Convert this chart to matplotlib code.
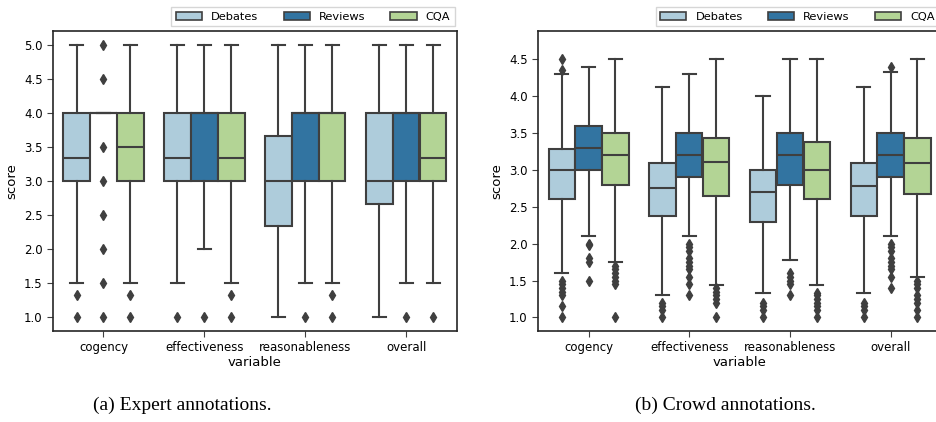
import matplotlib
matplotlib.use("Agg")
from matplotlib import pyplot as plt
from matplotlib.patches import Patch
import colorsys
import numpy as np

variables = ["cogency", "effectiveness", "reasonableness", "overall"]
domains = ["Debates", "Reviews", "CQA"]
colors = ["#a6cee3", "#1f78b4", "#b2df8a"]

# expert annotations: (whislo, q1, med, q3, whishi) per variable, per domain
expert_stats = {
    "Debates": [(1.5, 3.0, 3.333, 4.0, 5.0), (1.5, 3.0, 3.333, 4.0, 5.0),
                (1.0, 2.333, 3.0, 3.667, 5.0), (1.0, 2.667, 3.0, 4.0, 5.0)],
    "Reviews": [(4.0, 4.0, 4.0, 4.0, 4.0), (2.0, 3.0, 4.0, 4.0, 5.0),
                (1.5, 3.0, 4.0, 4.0, 5.0), (1.5, 3.0, 4.0, 4.0, 5.0)],
    "CQA": [(1.5, 3.0, 3.5, 4.0, 5.0), (1.5, 3.0, 3.333, 4.0, 5.0),
            (1.5, 3.0, 4.0, 4.0, 5.0), (1.5, 3.0, 3.333, 4.0, 5.0)],
}
expert_fliers = {
    "Debates": [[1.333, 1.0], [1.0], [], []],
    "Reviews": [[5.0, 4.5, 3.5, 3.0, 2.5, 2.0, 1.5, 1.0], [1.0], [1.0], [1.0]],
    "CQA": [[1.333, 1.0], [1.333, 1.0], [1.333, 1.0], [1.0]],
}

# crowd annotations
crowd_stats = {
    "Debates": [(1.6, 2.6, 3.0, 3.28, 4.3), (1.3, 2.375, 2.75, 3.1, 4.125),
                (1.33, 2.3, 2.7, 3.0, 4.0), (1.33, 2.375, 2.78, 3.1, 4.125)],
    "Reviews": [(2.11, 3.0, 3.3, 3.6, 4.4), (2.1, 2.9, 3.2, 3.5, 4.3),
                (1.78, 2.8, 3.2, 3.5, 4.5), (2.1, 2.9, 3.2, 3.5, 4.33)],
    "CQA": [(1.75, 2.8, 3.2, 3.5, 4.5), (1.44, 2.64, 3.11, 3.44, 4.5),
            (1.44, 2.6, 3.0, 3.375, 4.5), (1.55, 2.667, 3.1, 3.44, 4.5)],
}
crowd_fliers = {
    "Debates": [[4.5, 4.35, 1.5, 1.45, 1.4, 1.35, 1.3, 1.15, 1.0],
                [1.2, 1.15, 1.1, 1.0],
                [1.2, 1.15, 1.1, 1.0],
                [1.2, 1.15, 1.1, 1.0]],
    "Reviews": [[2.0, 1.98, 1.8, 1.75, 1.5],
                [2.0, 1.95, 1.9, 1.8, 1.75, 1.7, 1.65, 1.55, 1.45, 1.3],
                [1.6, 1.55, 1.5, 1.45, 1.3],
                [4.4, 2.0, 1.95, 1.9, 1.8, 1.75, 1.7, 1.65, 1.55, 1.4]],
    "CQA": [[1.7, 1.65, 1.6, 1.55, 1.5, 1.45, 1.0],
            [1.4, 1.35, 1.3, 1.25, 1.2, 1.0],
            [1.33, 1.3, 1.25, 1.2, 1.15, 1.1, 1.0],
            [1.5, 1.45, 1.4, 1.3, 1.25, 1.2, 1.1, 1.0]],
}

plt.rcParams["font.family"] = ["DejaVu Sans"]
gray = "#3f3f3f"
width = 0.8 / 3


def desat(c, prop=0.75):
    # same as seaborn's default box saturation
    r, g, b = matplotlib.colors.to_rgb(c)
    h, l, s = colorsys.rgb_to_hls(r, g, b)
    return colorsys.hls_to_rgb(h, l, s * prop)


fills = [desat(c) for c in colors]


def draw(ax, stats, fliers):
    for d, dom in enumerate(domains):
        bx = []
        for i in range(len(variables)):
            lo, q1, med, q3, hi = stats[dom][i]
            bx.append(dict(whislo=lo, q1=q1, med=med, q3=q3, whishi=hi,
                           fliers=fliers[dom][i], label=""))
        pos = np.arange(len(variables)) - 0.8 / 2 + width * (d + 0.5)
        ax.bxp(bx, positions=pos, widths=width * 0.98, patch_artist=True,
               manage_ticks=False,
               boxprops=dict(facecolor=fills[d], edgecolor=gray, linewidth=1.5),
               medianprops=dict(color=gray, linewidth=1.5),
               whiskerprops=dict(color=gray, linewidth=1.5),
               capprops=dict(color=gray, linewidth=1.5),
               flierprops=dict(marker="d", markerfacecolor=gray, markeredgecolor=gray,
                               markersize=5, linestyle="none"))
    ax.set_xticks(range(len(variables)))
    ax.set_xticklabels(variables)
    ax.set_xlim(-0.5, len(variables) - 0.5)
    ax.tick_params(labelsize=8.5, color=gray, length=4)
    ax.set_xlabel("variable", fontsize=9.5, labelpad=1)
    ax.set_ylabel("score", fontsize=9.5)
    for s in ax.spines.values():
        s.set_color("#262626")
        s.set_linewidth(1.2)
    handles = [Patch(facecolor=c, edgecolor=gray, linewidth=1.2) for c in fills]
    ax.legend(handles, domains, ncol=3, loc="lower right", bbox_to_anchor=(0.995, 1.015),
              fontsize=8.2, frameon=True, borderaxespad=0, handlelength=2.3,
              handletextpad=0.8, columnspacing=2.2, edgecolor="#cccccc", fancybox=False)


fig = plt.figure(figsize=(9.36, 4.22), dpi=100)
ax1 = fig.add_axes([0.0566, 0.2156, 0.4314, 0.711])
ax2 = fig.add_axes([0.575, 0.2156, 0.4303, 0.711])
draw(ax1, expert_stats, expert_fliers)
ax1.set_ylim(0.8, 5.2)
ax1.set_yticks(np.arange(1.0, 5.01, 0.5))
draw(ax2, crowd_stats, crowd_fliers)
ax2.set_ylim(0.815, 4.885)
ax2.set_yticks(np.arange(1.0, 4.51, 0.5))
for ax in (ax1, ax2):
    ax.set_yticklabels(["%.1f" % t for t in ax.get_yticks()])

fig.text(0.195, 0.028, "(a) Expert annotations.", ha="center", fontsize=14,
         family="Liberation Serif")
fig.text(0.775, 0.028, "(b) Crowd annotations.", ha="center", fontsize=14,
         family="Liberation Serif")

fig.savefig("out.png", dpi=100)
